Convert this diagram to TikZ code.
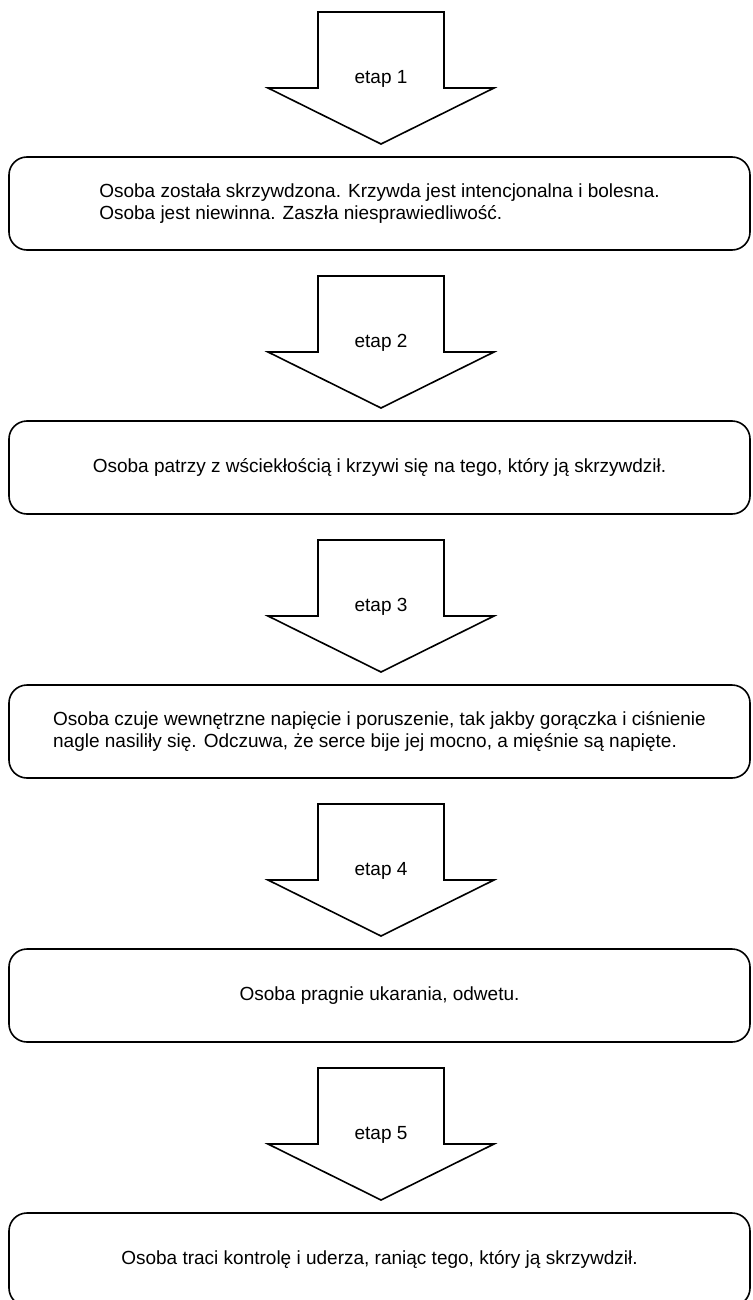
\documentclass[tikz,border=0pt]{standalone}
\usepackage{fontspec}
\setmainfont{Liberation Sans}
\usepackage{tikz}

\begin{document}
\begin{tikzpicture}[x=1pt, y=-1pt,
  stage/.style={rectangle, draw, line width=1.6pt, rounded corners=18pt, minimum width=741pt, minimum height=93pt, align=left, font=\fontsize{19}{21.5}\selectfont},
  blockarrow/.style={draw, line width=1.6pt, line join=miter},
  etaplabel/.style={font=\fontsize{19}{21.5}\selectfont}
]
  \useasboundingbox (0,0) rectangle (752,1300);

  \node[stage] (s1) at (379.5,203.5) {Osoba została skrzywdzona. Krzywda jest intencjonalna i bolesna.\\Osoba jest niewinna. Zaszła niesprawiedliwość.};
  \node[stage] (s2) at (379.5,467.5) {Osoba patrzy z wściekłością i krzywi się na tego, który ją skrzywdził.};
  \node[stage] (s3) at (379.5,731.5) {Osoba czuje wewnętrzne napięcie i poruszenie, tak jakby gorączka i ciśnienie\\nagle nasiliły się. Odczuwa, że serce bije jej mocno, a mięśnie są napięte.};
  \node[stage] (s4) at (379.5,995.5) {Osoba pragnie ukarania, odwetu.};
  \node[stage] (s5) at (379.5,1259.5) {Osoba traci kontrolę i uderza, raniąc tego, który ją skrzywdził.};

  % block arrows above each stage
  \foreach \n in {1,...,5} {
    \pgfmathsetmacro{\dy}{264*(\n-1)}
    \draw[blockarrow] (318,{12+\dy}) -- (444,{12+\dy}) -- (444,{88+\dy}) -- (494,{88+\dy})
      -- (381,{144+\dy}) -- (268,{88+\dy}) -- (318,{88+\dy}) -- cycle;
    \node[etaplabel] (e\n) at (381,{79+\dy}) {etap \n};
  }
\end{tikzpicture}
\end{document}
